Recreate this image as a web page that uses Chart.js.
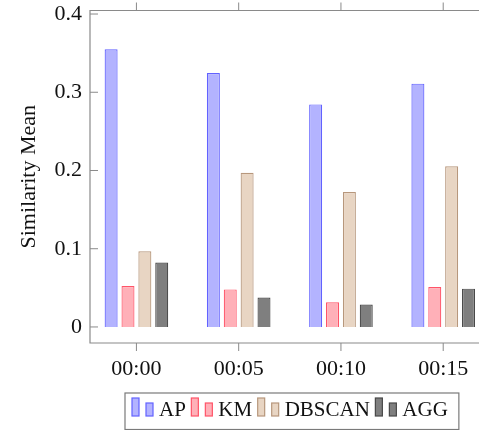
<!DOCTYPE html>
<html>
<head>
<meta charset="utf-8">
<script src="https://cdn.jsdelivr.net/npm/chart.js@4"></script>
<style>
  body { margin: 0; background: #fff; overflow: hidden; }
  #wrap { width: 479px; height: 430px; }
</style>
</head>
<body>
<div id="wrap"><canvas id="barChart"></canvas></div>
<script>
// data
var timeLabels = ['00:00', '00:05', '00:10', '00:15'];
var apValues = [0.355, 0.3245, 0.2845, 0.311];
var kmValues = [0.0524, 0.048, 0.0316, 0.051];
var dbscanValues = [0.0967, 0.197, 0.1725, 0.2053];
var aggValues = [0.0823, 0.0376, 0.0286, 0.049];
var yTickValues = [0, 0.1, 0.2, 0.3, 0.4];

var serif = '"Liberation Serif", "DejaVu Serif", serif';
var axisGrey = '#8a8a8a';

function toPoints(values) {
    return values.map(function(v, i) { return { x: i, y: v }; });
}

var series = [
    { label: 'AP', values: apValues, fill: '#b3b3ff', stroke: '#6262ff' },
    { label: 'KM', values: kmValues, fill: '#ffb0b8', stroke: '#ff5468' },
    { label: 'DBSCAN', values: dbscanValues, fill: '#e8d5c3', stroke: '#b7977c' },
    { label: 'AGG', values: aggValues, fill: '#7f7f7f', stroke: '#484848' }
];

// frame + tick marks like the pgfplots axis
var axisFrame = {
    id: 'axisFrame',
    afterDatasetsDraw: function(chart) {
        var ctx = chart.ctx;
        var a = chart.chartArea;
        var xs = chart.scales.x, ys = chart.scales.y;
        ctx.save();
        ctx.strokeStyle = axisGrey;
        ctx.lineWidth = 1.2;
        ctx.beginPath();
        ctx.moveTo(chart.width + 2, a.top);
        ctx.lineTo(a.left, a.top);
        ctx.lineTo(a.left, a.bottom);
        ctx.lineTo(chart.width + 2, a.bottom);
        ctx.stroke();
        ctx.lineWidth = 1;
        ctx.beginPath();
        yTickValues.forEach(function(v) {
            var y = ys.getPixelForValue(v);
            ctx.moveTo(a.left, y);
            ctx.lineTo(a.left + 8, y);
        });
        timeLabels.forEach(function(_, i) {
            var x = xs.getPixelForValue(i);
            ctx.moveTo(x, a.bottom);
            ctx.lineTo(x, a.bottom + 8);
            ctx.moveTo(x, a.top);
            ctx.lineTo(x, a.top - 8);
        });
        ctx.stroke();
        ctx.restore();
    }
};

// boxed legend with the two-bar ybar icon
var barLegend = {
    id: 'barLegend',
    afterDraw: function(chart) {
        var ctx = chart.ctx;
        ctx.save();
        ctx.font = '21px ' + serif;
        var iconW = 21, gapText = 6, gapItem = 5.5, padL = 7, padR = 11;
        var total = padL + padR;
        series.forEach(function(s, i) {
            total += iconW + gapText + ctx.measureText(s.label).width;
            if (i < series.length - 1) total += gapItem;
        });
        var left = 125, top = 393, bottom = 429.5;
        ctx.strokeStyle = '#7a7a7a';
        ctx.lineWidth = 1.2;
        ctx.strokeRect(left, top, total, bottom - top);

        var x = left + padL;
        var base = 416;
        ctx.textBaseline = 'alphabetic';
        series.forEach(function(s) {
            ctx.fillStyle = s.fill;
            ctx.strokeStyle = s.stroke;
            ctx.lineWidth = 1.2;
            ctx.fillRect(x, base - 18, 7, 18);
            ctx.strokeRect(x, base - 18, 7, 18);
            ctx.fillRect(x + 14, base - 13, 7, 13);
            ctx.strokeRect(x + 14, base - 13, 7, 13);
            x += iconW + gapText;
            ctx.fillStyle = '#111';
            ctx.fillText(s.label, x, base);
            x += ctx.measureText(s.label).width + gapItem;
        });
        ctx.restore();
    }
};

var ctx = document.getElementById('barChart');
new Chart(ctx, {
    type: 'bar',
    data: {
        datasets: series.map(function(s) {
            return {
                label: s.label,
                data: toPoints(s.values),
                backgroundColor: s.fill,
                borderColor: s.stroke,
                borderWidth: 1.2
            };
        })
    },
    options: {
        responsive: true,
        maintainAspectRatio: false,
        animation: false,
        categoryPercentage: 0.66,
        barPercentage: 0.77,
        layout: { padding: { top: 10.5, right: 0, bottom: 47, left: 0 } },
        plugins: {
            legend: { display: false },
            tooltip: { enabled: false }
        },
        scales: {
            x: {
                type: 'linear',
                min: -0.454,
                max: 3.35,
                offset: false,
                grid: { display: false, drawTicks: false },
                border: { display: false },
                afterBuildTicks: function(scale) {
                    scale.ticks = timeLabels.map(function(_, i) { return { value: i }; });
                },
                afterFit: function(scale) {
                    scale.height = 40;
                    scale.paddingLeft = 0;
                    scale.paddingRight = 0;
                },
                ticks: {
                    autoSkip: false,
                    maxRotation: 0,
                    padding: 13,
                    color: '#111',
                    font: { family: serif, size: 22 },
                    callback: function(v) { return timeLabels[v]; }
                }
            },
            y: {
                min: -0.0205,
                max: 0.4045,
                grid: { display: false, drawTicks: false },
                border: { display: false },
                afterBuildTicks: function(scale) {
                    scale.ticks = yTickValues.map(function(v) { return { value: v }; });
                },
                afterFit: function(scale) {
                    scale.width = 90;
                    scale.paddingTop = 0;
                    scale.paddingBottom = 0;
                },
                ticks: {
                    padding: 8,
                    color: '#111',
                    font: { family: serif, size: 22 },
                    callback: function(v) { return v === 0 ? '0' : v.toFixed(1); }
                },
                title: {
                    display: true,
                    text: 'Similarity Mean',
                    color: '#111',
                    padding: { top: 16, bottom: 0 },
                    font: { family: serif, size: 22 }
                }
            }
        }
    },
    plugins: [axisFrame, barLegend]
});
</script>
</body>
</html>
